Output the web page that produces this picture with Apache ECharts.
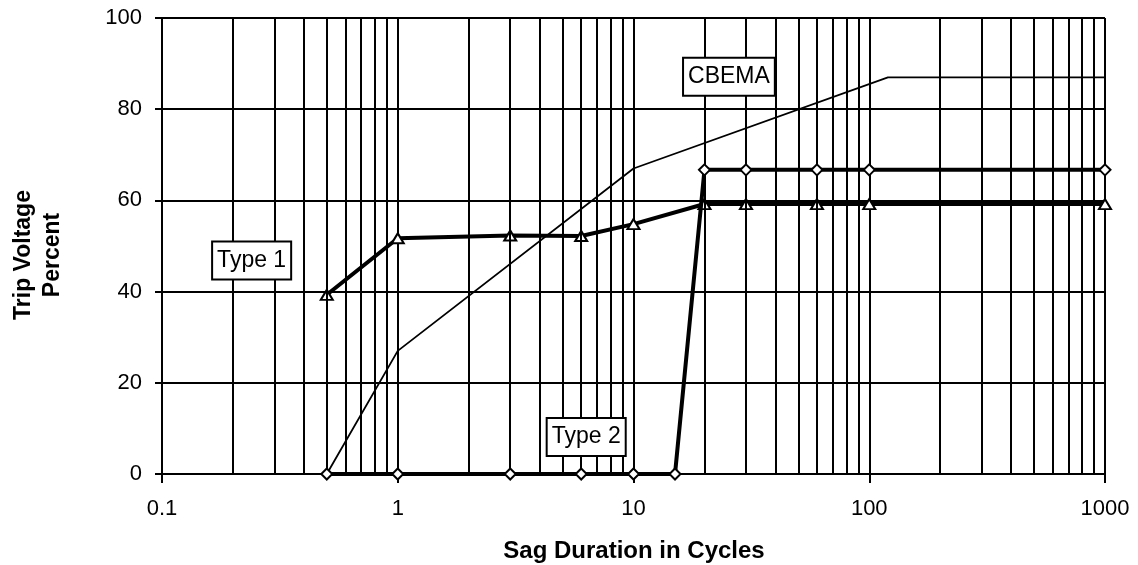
<!DOCTYPE html>
<html><head><meta charset="utf-8">
<script src="https://cdn.jsdelivr.net/npm/echarts@6/dist/echarts.min.js"></script>
<style>html,body{margin:0;padding:0;background:#fff}#c{width:1138px;height:565px}</style>
</head><body><div id="c"></div>
<script>
// ---- data ----
const type1X = [0.5, 1, 3, 6, 10, 20, 30, 60, 100, 1000];
const type1Y = [39.3, 51.7, 52.3, 52.2, 54.8, 59.2, 59.2, 59.2, 59.2, 59.2];
const type2X = [0.5, 1, 3, 6, 10, 15, 20, 30, 60, 100, 1000];
const type2Y = [0, 0, 0, 0, 0, 0, 66.7, 66.7, 66.7, 66.7, 66.7];
const cbemaX = [0.5, 1, 10, 120, 1000];
const cbemaY = [0, 27, 67, 87, 87];
const yTicks = [0, 20, 40, 60, 80, 100];
const xTickLabels = ['0.1', '1', '10', '100', '1000'];
const noteNames = ['CBEMA', 'Type 1', 'Type 2'];
const noteX = [25.4, 0.24, 6.3];
const noteY = [87.1, 46.8, 8.1];

// minor vertical grid lines (2..9 within each decade)
const minorGrid = [];
[0.1, 1, 10, 100].forEach(d => { for (let k = 2; k <= 9; k++) minorGrid.push(+(d * k).toPrecision(3)); });

const pair = (xs, ys) => xs.map((x, i) => [x, ys[i]]);
const FONT = '"Liberation Sans", Arial, sans-serif';

const chart = echarts.init(document.getElementById('c'), null, { renderer: 'canvas' });
const option = {
  animation: false,
  backgroundColor: '#fff',
  grid: { left: 162, right: 33, top: 18, bottom: 91, containLabel: false },
  xAxis: {
    type: 'log', logBase: 10, min: 0.1, max: 1000,
    axisLine: { show: true, lineStyle: { color: '#000', width: 2 } },
    axisTick: { show: true, length: 9, inside: false, lineStyle: { color: '#000', width: 2 } },
    splitLine: { show: true, lineStyle: { color: '#000', width: 2 } },
    axisLabel: {
      color: '#000', fontSize: 22, fontFamily: FONT, margin: 24,
      formatter: v => { const s = xTickLabels.find(t => Math.abs(parseFloat(t) - v) < 1e-6 * Math.max(1, v)); return s || ''; }
    }
  },
  yAxis: {
    type: 'value', min: 0, max: 100, interval: 20,
    axisLine: { show: true, lineStyle: { color: '#000', width: 2 } },
    axisTick: { show: true, length: 7, lineStyle: { color: '#000', width: 2 } },
    splitLine: { show: true, lineStyle: { color: '#000', width: 2 } },
    axisLabel: { color: '#000', fontSize: 22, fontFamily: FONT, margin: 20,
      formatter: v => yTicks.includes(v) ? String(v) : '' }
  },
  series: [
    {
      name: 'grid', type: 'line', data: [], silent: true,
      markLine: {
        silent: true, symbol: 'none', label: { show: false },
        lineStyle: { color: '#000', width: 2, type: 'solid' },
        data: minorGrid.map(v => ({ xAxis: v }))
      }
    },
    {
      name: 'CBEMA', type: 'line', data: pair(cbemaX, cbemaY), showSymbol: false, symbol: 'none',
      lineStyle: { color: '#000', width: 1.8 }, z: 3
    },
    {
      name: 'Type 1', type: 'line', data: pair(type1X, type1Y),
      symbol: 'triangle', symbolSize: [12, 10],
      itemStyle: { color: '#fff', borderColor: '#000', borderWidth: 2 },
      lineStyle: { color: '#000', width: 4 }, z: 4
    },
    {
      name: 'Type 2', type: 'line', data: pair(type2X, type2Y),
      symbol: 'diamond', symbolSize: [11, 11],
      itemStyle: { color: '#fff', borderColor: '#000', borderWidth: 2 },
      lineStyle: { color: '#000', width: 4 }, z: 5
    }
  ]
};
chart.setOption(option);

// annotation boxes and axis titles
const gfx = noteNames.map((n, i) => {
  const p = chart.convertToPixel({ xAxisIndex: 0, yAxisIndex: 0 }, [noteX[i], noteY[i]]);
  return {
    type: 'text', x: p[0], y: p[1], z: 100,
    style: {
      text: n, fill: '#000', font: '23px ' + FONT, align: 'center', verticalAlign: 'middle',
      backgroundColor: '#fff', borderColor: '#000', borderWidth: 2, padding: [7, 4, 6, 4]
    }
  };
});
gfx.push({
  type: 'text', x: 38, y: 255, rotation: Math.PI / 2, z: 100,
  style: { text: 'Trip Voltage\nPercent', fill: '#000', font: 'bold 23px ' + FONT,
    align: 'center', verticalAlign: 'middle', lineHeight: 29 }
});
gfx.push({
  type: 'text', x: 634, y: 551, z: 100,
  style: { text: 'Sag Duration in Cycles', fill: '#000', font: 'bold 24px ' + FONT,
    align: 'center', verticalAlign: 'middle' }
});
chart.setOption({ graphic: gfx });
</script>
</body></html>
